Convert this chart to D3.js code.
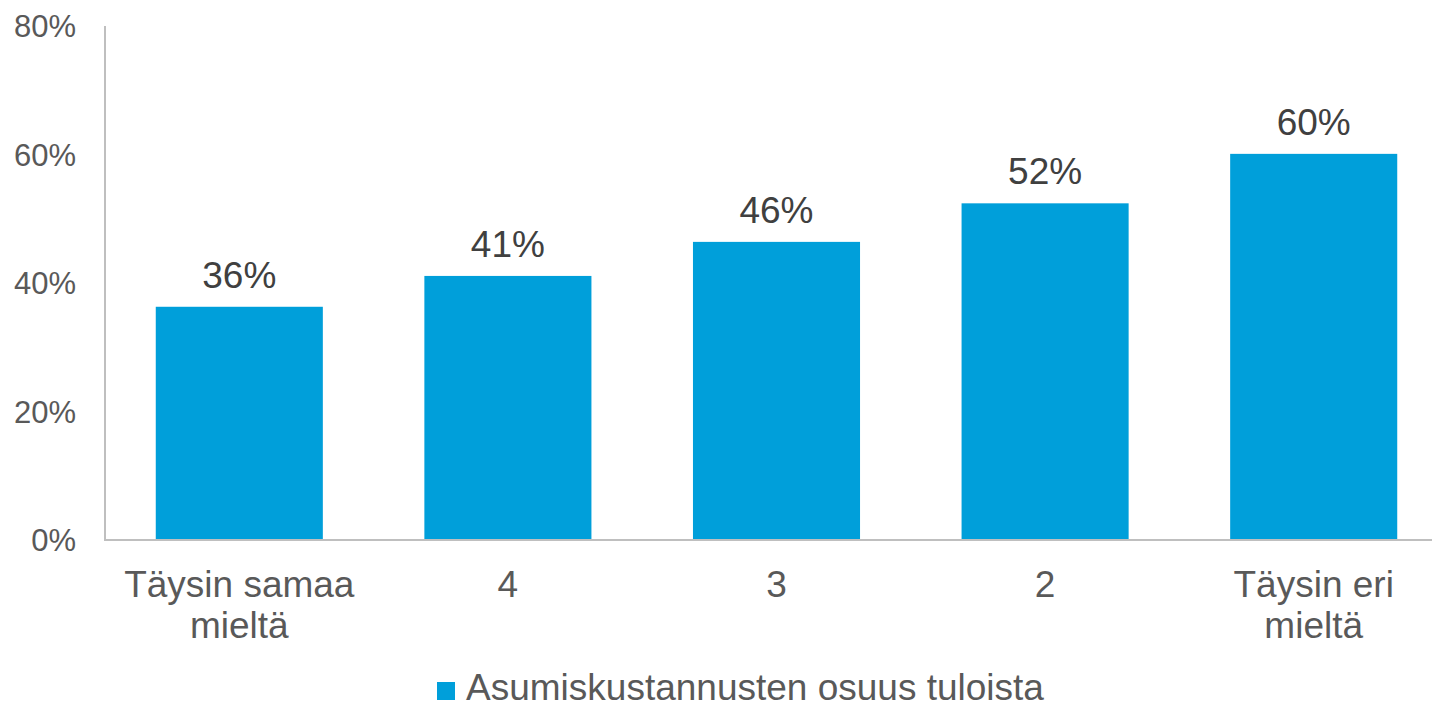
<!DOCTYPE html>
<meta charset="utf-8">
<style>
body { margin: 0; background: #fff; }
svg { display: block; font-family: "Liberation Sans", Arial, sans-serif; }
.axis .domain { display: none; }
.axis line { visibility: hidden; }
.axis text { font-size: 31px; fill: #595959; }
.xlab { font-size: 37px; fill: #595959; }
.val { font-size: 37px; fill: #404040; }
.legend { font-size: 37px; fill: #595959; }
</style>
<svg width="1432" height="708"></svg>
<script src="https://d3js.org/d3.v7.min.js"></script>
<script>
var categories = ["Täysin samaa mieltä", "4", "3", "2", "Täysin eri mieltä"];
var values = [36.3, 41.1, 46.4, 52.4, 60.1];
var valueLabels = ["36%", "41%", "46%", "52%", "60%"];
var yTicks = [0, 20, 40, 60, 80];
var seriesName = "Asumiskustannusten osuus tuloista";

var svg = d3.select("svg"),
    plotLeft = 105, plotTop = 26, plotBottom = 540;

var x = d3.scaleBand()
    .domain(categories)
    .range([plotLeft, 1448])
    .paddingInner(0.378)
    .paddingOuter(0.189);

var y = d3.scaleLinear()
    .domain([0, 80])
    .range([plotBottom, plotTop]);

var color = "#009fda";

// bars
svg.selectAll("rect.bar")
  .data(values)
  .enter().append("rect")
    .attr("class", "bar")
    .attr("x", (d, i) => x(categories[i]))
    .attr("y", d => y(d))
    .attr("width", x.bandwidth())
    .attr("height", d => y(0) - y(d))
    .attr("fill", color);

// value labels
svg.selectAll("text.val")
  .data(values)
  .enter().append("text")
    .attr("class", "val")
    .attr("x", (d, i) => x(categories[i]) + x.bandwidth() / 2)
    .attr("y", d => y(d) - 19)
    .attr("text-anchor", "middle")
    .text((d, i) => valueLabels[i]);

// y axis
svg.append("g")
    .attr("class", "axis")
    .attr("transform", "translate(" + (plotLeft - 29) + ",0)")
    .call(d3.axisLeft(y).tickValues(yTicks).tickSize(0).tickPadding(0).tickFormat(d => d + "%"))
    .selectAll("text").attr("dy", "0.35em");

svg.append("line")
    .attr("x1", plotLeft).attr("x2", plotLeft)
    .attr("y1", y(80)).attr("y2", y(0))
    .attr("stroke", "#bfbfbf").attr("stroke-width", 2);

svg.append("line")
    .attr("x1", plotLeft - 1).attr("x2", 1432)
    .attr("y1", y(0)).attr("y2", y(0))
    .attr("stroke", "#bfbfbf").attr("stroke-width", 2);

// category labels, wrapped in two lines where long
svg.selectAll("text.xlab")
  .data(categories)
  .enter().append("text")
    .attr("class", "xlab")
    .attr("text-anchor", "middle")
    .attr("x", d => x(d) + x.bandwidth() / 2)
    .attr("y", 597)
    .each(function(d) {
      var t = d3.select(this);
      var cut = d.lastIndexOf(" ");
      var lines = d.length > 5 ? [d.slice(0, cut), d.slice(cut + 1)] : [d];
      lines.forEach(function(l, i) {
        t.append("tspan")
          .attr("x", x(d) + x.bandwidth() / 2)
          .attr("dy", i === 0 ? 0 : 41)
          .text(l);
      });
    });

// legend
var lg = svg.append("g").attr("transform", "translate(437,682)");
lg.append("rect").attr("width", 18).attr("height", 18).attr("fill", color);
lg.append("text").attr("class", "legend").attr("x", 29).attr("y", 18).text(seriesName);
</script>
